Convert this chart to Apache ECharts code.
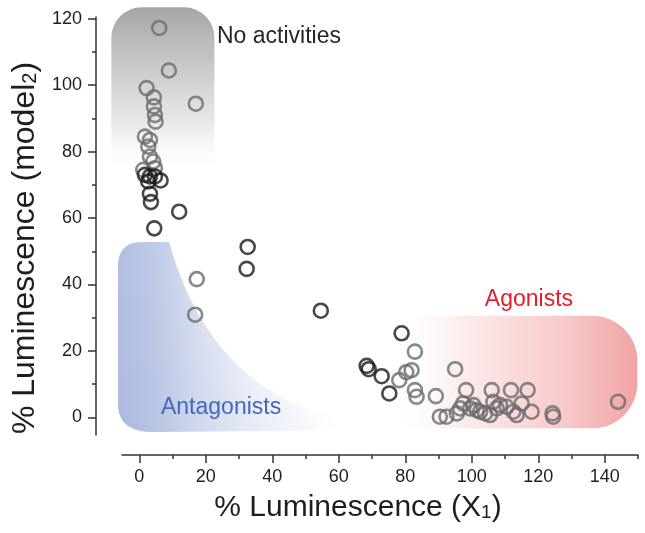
<!DOCTYPE html>
<html>
<head>
<meta charset="utf-8">
<script src="https://cdn.jsdelivr.net/npm/echarts@6/dist/echarts.min.js"></script>
<style>
html,body{margin:0;padding:0;background:#fff;}
#c{width:645px;height:533px;}
</style>
</head>
<body>
<div id="c"></div>
<script>
// ---- data ----
var xMajorTicks = [0, 20, 40, 60, 80, 100, 120, 140];
var xMinorTicks = [10, 30, 50, 70, 90, 110, 130, 150];
var yMajorTicks = [0, 20, 40, 60, 80, 100, 120];
var yMinorTicks = [10, 30, 50, 70, 90, 110];

var grayX = [6.0, 8.9, 17.0, 2.2, 4.4, 4.4, 4.7, 4.9, 1.7, 3.2, 2.7, 3.2, 4.2, 4.7, 1.2,
  17.3, 16.8,
  82.9, 80.3, 81.9, 78.2, 82.9, 83.4, 89.2, 95.0, 90.4, 92.4, 98.3, 97.4, 96.5, 95.5, 99.5,
  100.5, 101.5, 102.5, 104.0, 105.5, 106.0, 106.5, 107.5, 108.5, 110.5, 111.8, 112.5, 113.5,
  115.0, 116.8, 118.0, 124.3, 124.5, 144.0];
var grayY = [117.2, 104.4, 94.4, 99.1, 96.3, 93.6, 91.0, 89.0, 84.5, 83.5, 81.5, 78.5, 77.0, 75.0, 74.5,
  41.6, 30.9,
  19.8, 13.6, 14.2, 11.2, 8.2, 6.2, 6.4, 14.5, 0.2, 0.2, 8.2, 4.2, 2.7, 1.2, 2.7,
  3.7, 2.2, 1.7, 1.2, 0.7, 8.2, 4.7, 2.7, 3.7, 3.2, 8.2, 1.7, 0.7,
  4.2, 8.2, 1.7, 1.2, 0.2, 4.7];

var blackX = [1.7, 3.2, 4.7, 6.4, 2.7, 3.2, 3.5, 12.0, 4.5, 32.6, 32.3, 54.6, 68.4, 69.0, 72.9, 75.2, 78.9];
var blackY = [73.0, 72.5, 72.5, 71.3, 71.0, 67.3, 64.8, 61.9, 56.9, 51.3, 44.7, 32.1, 15.5, 14.5, 12.4, 7.2, 25.3];

var xRange = [-5.2, 150];
var yRange = [-5.3, 120.5];

function pairs(xs, ys) { return xs.map(function (v, i) { return [v, ys[i]]; }); }

var FONT = '"Liberation Sans", Arial, Helvetica, sans-serif';
var AXIS_COLOR = '#333';

var chart = echarts.init(document.getElementById('c'), null, {renderer: 'canvas'});

function xAxisCfg(major) {
  return {
    type: 'value', min: xRange[0], max: xRange[1], position: 'bottom', offset: 20,
    splitLine: {show: false},
    axisLine: {show: major, onZero: false, lineStyle: {color: AXIS_COLOR, width: 1.5}},
    axisTick: {show: true, inside: false, length: major ? 8 : 4,
      customValues: major ? xMajorTicks : xMinorTicks,
      lineStyle: {color: AXIS_COLOR, width: 1.5}},
    axisLabel: major ? {show: true, customValues: xMajorTicks, margin: 13,
      fontFamily: FONT, fontSize: 18, color: '#1e1e1e'} : {show: false},
    name: major ? '% Luminescence (X{sub|1})' : '',
    nameLocation: 'middle', nameGap: 38,
    nameTextStyle: {fontFamily: FONT, fontSize: 30, color: '#1e1e1e', padding: [0, 44, 0, 0],
      rich: {sub: {fontFamily: FONT, fontSize: 19, color: '#1e1e1e', verticalAlign: 'bottom', padding: [0, 0, 1, 0]}}}
  };
}
function yAxisCfg(major) {
  return {
    type: 'value', min: yRange[0], max: yRange[1], position: 'left', offset: 26,
    splitLine: {show: false},
    axisLine: {show: major, onZero: false, lineStyle: {color: AXIS_COLOR, width: 1.5}},
    axisTick: {show: true, inside: false, length: major ? 8 : 4,
      customValues: major ? yMajorTicks : yMinorTicks,
      lineStyle: {color: AXIS_COLOR, width: 1.5}},
    axisLabel: major ? {show: true, customValues: yMajorTicks, margin: 14,
      fontFamily: FONT, fontSize: 18, color: '#1e1e1e'} : {show: false},
    name: major ? '% Luminescence (model{sub|2})' : '',
    nameLocation: 'middle', nameGap: 52,
    nameTextStyle: {fontFamily: FONT, fontSize: 32, color: '#1e1e1e', padding: [0, 44, 0, 0],
      rich: {sub: {fontFamily: FONT, fontSize: 20, color: '#1e1e1e', verticalAlign: 'bottom', padding: [0, 0, 1, 0]}}}
  };
}

var option = {
  animation: false,
  backgroundColor: '#fff',
  grid: {left: 122, right: 7, top: 17, bottom: 98, containLabel: false},
  xAxis: [xAxisCfg(true), xAxisCfg(false)],
  yAxis: [yAxisCfg(true), yAxisCfg(false)],
  series: [
    {
      type: 'scatter', name: 'gray', xAxisIndex: 0, yAxisIndex: 0,
      symbol: 'circle', symbolSize: 14, z: 3,
      itemStyle: {color: 'rgba(0,0,0,0)', borderColor: '#6c6c6c', borderWidth: 2.6},
      emphasis: {disabled: true},
      data: pairs(grayX, grayY)
    },
    {
      type: 'scatter', name: 'black', xAxisIndex: 0, yAxisIndex: 0,
      symbol: 'circle', symbolSize: 14, z: 4,
      itemStyle: {color: 'rgba(0,0,0,0)', borderColor: '#1a1a1a', borderWidth: 2.6},
      emphasis: {disabled: true},
      data: pairs(blackX, blackY)
    }
  ]
};
chart.setOption(option);

// ---- background regions and annotations, positioned through the axes ----
function P(x, y) { return chart.convertToPixel({gridIndex: 0}, [x, y]); }
function lin(x, y, x2, y2, stops) {
  return {type: 'linear', x: x, y: y, x2: x2, y2: y2,
    colorStops: stops.map(function (s) { return {offset: s[0], color: s[1]}; }), global: false};
}
function quad(pts, a, c, b, n) {
  for (var i = 1; i <= n; i++) {
    var t = i / n, u = 1 - t;
    pts.push([u * u * a[0] + 2 * u * t * c[0] + t * t * b[0], u * u * a[1] + 2 * u * t * c[1] + t * t * b[1]]);
  }
}
function blue(a) { return 'rgba(150,168,214,' + a + ')'; }

// gray "No activities" region
var g0 = P(-8.4, 123.4), g1 = P(22.6, 73);

// blue "Antagonists" region: concave wedge, two overlapping fades
var bTop = P(1.0, 52.8), bTL = P(-6.4, 52.8), bBL = P(-6.4, -4.4), bB = P(48, -4.0),
    bTip = P(62.5, -0.9), bCtrl = P(21.3, 7.6), bTopR = P(9.0, 52.8);
var bluePts = [bTop];
quad(bluePts, bTop, bTL, [bTL[0], bTL[1] + 24], 10);
bluePts.push([bBL[0], bBL[1] - 28]);
quad(bluePts, [bBL[0], bBL[1] - 28], bBL, [bBL[0] + 35, bBL[1]], 10);
bluePts.push(bB);
quad(bluePts, bB, [bTip[0] + 6, bB[1] - 2], bTip, 8);
quad(bluePts, bTip, bCtrl, bTopR, 24);

// red "Agonists" region
var r0 = P(74.5, 30.6), r1 = P(149.8, -3.3);

var tNo = P(42.0, 114.5), tAnt = P(24.6, 2.8), tAg = P(117.2, 35.3);

chart.setOption({
  graphic: [
    {
      type: 'rect', z: 0, silent: true,
      shape: {x: g0[0], y: g0[1], width: g1[0] - g0[0], height: g1[1] - g0[1], r: [30, 30, 10, 10]},
      style: {fill: lin(0, 0, 0, 1, [[0, '#a6a6a6'], [0.45, '#d2d2d2'], [0.75, '#efefef'], [1, 'rgba(255,255,255,0)']])}
    },
    {
      type: 'polygon', z: 0, silent: true,
      shape: {points: bluePts},
      style: {fill: lin(0, 0, 1, 0, [[0, blue(0.58)], [0.15, blue(0.45)], [0.35, blue(0.15)], [0.55, blue(0)], [1, blue(0)]])}
    },
    {
      type: 'polygon', z: 0, silent: true,
      shape: {points: bluePts},
      style: {fill: lin(0, 1, 1, 0.5, [[0, blue(0.5)], [0.45, blue(0.28)], [0.82, blue(0)], [1, blue(0)]])}
    },
    {
      type: 'rect', z: 0, silent: true,
      shape: {x: r0[0], y: r0[1], width: r1[0] - r0[0], height: r1[1] - r0[1], r: [40, 45, 45, 30]},
      style: {fill: lin(0, 0, 1, 0, [[0, 'rgba(255,255,255,0)'], [0.3, '#fcecec'], [0.7, '#f8caca'], [1, '#f0a3a5']])}
    },
    {
      type: 'text', z: 5, silent: true, x: tNo[0], y: tNo[1],
      style: {text: 'No activities', font: '23px ' + FONT, fill: '#262626', align: 'center', verticalAlign: 'middle'}
    },
    {
      type: 'text', z: 5, silent: true, x: tAnt[0], y: tAnt[1],
      style: {text: 'Antagonists', font: '23px ' + FONT, fill: '#4567bd', align: 'center', verticalAlign: 'middle'}
    },
    {
      type: 'text', z: 5, silent: true, x: tAg[0], y: tAg[1],
      style: {text: 'Agonists', font: '23px ' + FONT, fill: '#e61e28', align: 'center', verticalAlign: 'middle'}
    }
  ]
});
</script>
</body>
</html>
